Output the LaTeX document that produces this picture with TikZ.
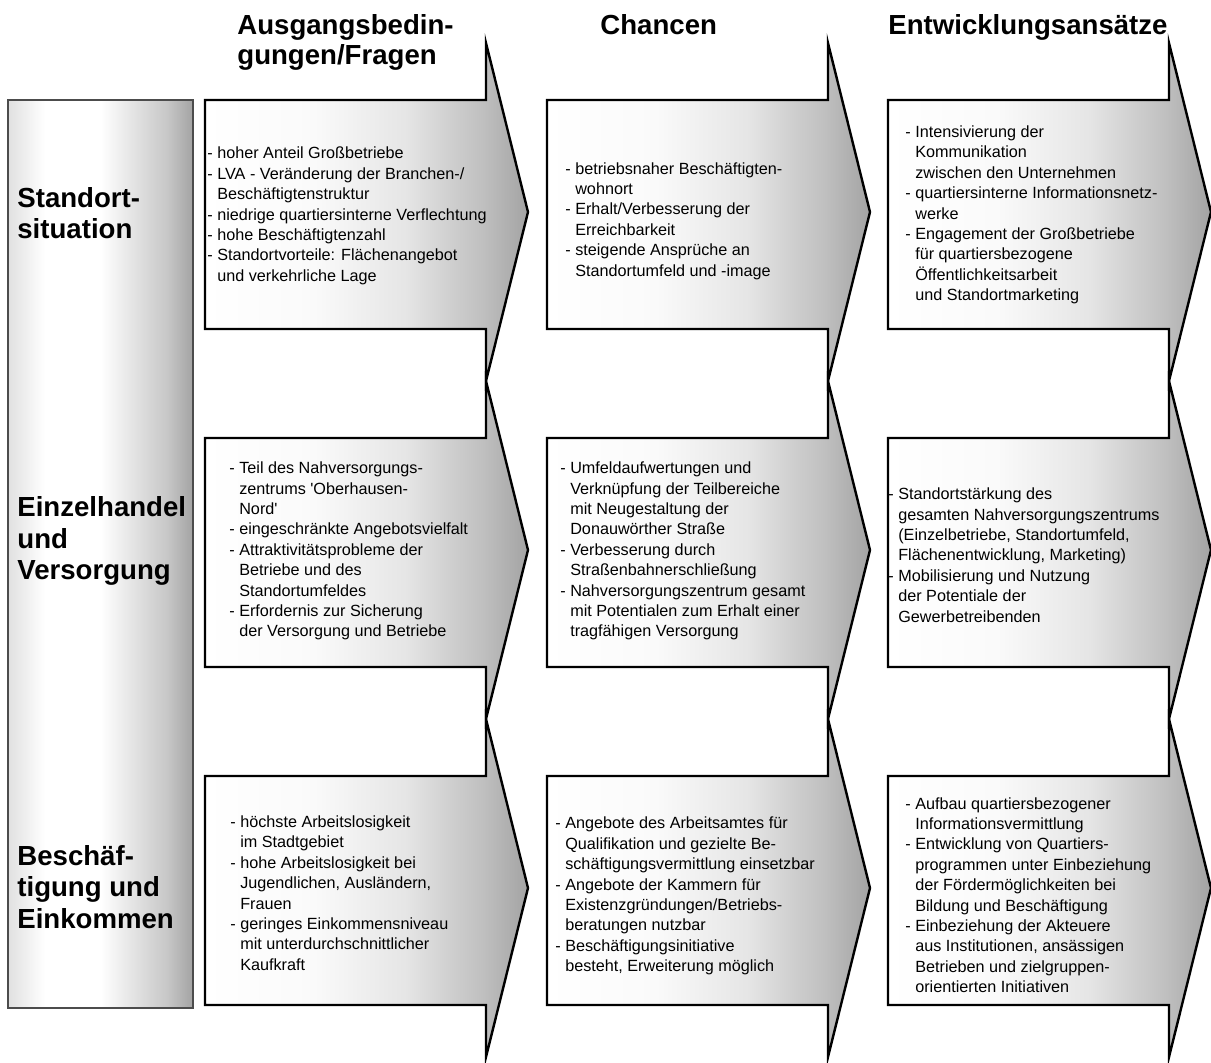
\documentclass[tikz,border=0pt]{standalone}
\usepackage{fontspec}
\setmainfont{Liberation Sans}
\newcommand{\einr}{\hphantom{- }}
\pgfdeclarehorizontalshading{flowshade}{100bp}{color(0bp)=(white); color(25bp)=(white); color(42bp)=(black!2); color(56bp)=(black!10); color(68bp)=(black!25); color(75bp)=(black!36); color(100bp)=(black!36)}
\pgfdeclarehorizontalshading{colshade}{100bp}{color(0bp)=(black!12); color(25bp)=(black!12); color(35bp)=(white); color(50bp)=(white); color(68bp)=(black!22); color(75bp)=(black!36); color(100bp)=(black!36)}

\begin{document}
\begin{tikzpicture}[x=0.5pt,y=-0.5pt,
        flow/.style={draw=black,line width=1.2pt,line join=miter,shade,shading=flowshade},
        txt/.style={anchor=west,align=left,inner sep=0pt,font=\fontsize{8.1}{10.2}\selectfont},
        hd/.style={anchor=west,align=left,inner sep=0pt,font=\fontsize{13.8}{15.6}\selectfont\bfseries},
        ttl/.style={anchor=north west,align=left,inner sep=0pt,font=\fontsize{13.8}{15}\selectfont\bfseries}]
        \useasboundingbox (0,0) rectangle (1211,1062);

        % left column
        \draw[draw=black!70,line width=0.7pt,shade,shading=colshade] (8,100) rectangle (193,1008);

        % arrows, one per column and row
        \foreach \c in {205,547,888}
            \foreach \r in {43,381,719}
                \draw[flow] (\c,\r+57) -- (\c+281,\r+57) -- (\c+281,\r) -- (\c+323,\r+169)
                    -- (\c+281,\r+338) -- (\c+281,\r+286) -- (\c,\r+286) -- cycle;

        % titles
        \node at (237,14) [ttl] (t_aus) {Ausgangsbedin-\\gungen/Fragen};
        \node at (600,14) [ttl] (t_cha) {Chancen};
        \node at (888,14) [ttl] (t_ent) {Entwicklungsansätze};

        % row headings
        \node at (17,213) [hd] (standort) {Standort-\\situation};
        \node at (17,541) [hd] (handel) {Einzelhandel\\und\\Versorgung};
        \node at (17,887) [hd] (beschaeft) {Beschäf-\\tigung und\\Einkommen};

        % Standortsituation
        \node at (207,216) [txt] (aus1) {- hoher Anteil Großbetriebe\\- LVA - Veränderung der Branchen-/\\\einr Beschäftigtenstruktur\\- niedrige quartiersinterne Verflechtung\\- hohe Beschäftigtenzahl\\- Standortvorteile: Flächenangebot\\\einr und verkehrliche Lage};
        \node at (565,221) [txt] (cha1) {- betriebsnaher Beschäftigten-\\\einr wohnort\\- Erhalt/Verbesserung der\\\einr Erreichbarkeit\\- steigende Ansprüche an\\\einr Standortumfeld und -image};
        \node at (905,215) [txt] (ent1) {- Intensivierung der\\\einr Kommunikation\\\einr zwischen den Unternehmen\\- quartiersinterne Informationsnetz-\\\einr werke\\- Engagement der Großbetriebe\\\einr für quartiersbezogene\\\einr Öffentlichkeitsarbeit\\\einr und Standortmarketing};

        % Einzelhandel und Versorgung
        \node at (229,551) [txt] (aus2) {- Teil des Nahversorgungs-\\\einr zentrums \textquotesingle Oberhausen-\\\einr Nord\textquotesingle\\- eingeschränkte Angebotsvielfalt\\- Attraktivitätsprobleme der\\\einr Betriebe und des\\\einr Standortumfeldes\\- Erfordernis zur Sicherung\\\einr der Versorgung und Betriebe};
        \node at (560,551) [txt] (cha2) {- Umfeldaufwertungen und\\\einr Verknüpfung der Teilbereiche\\\einr mit Neugestaltung der\\\einr Donauwörther Straße\\- Verbesserung durch\\\einr Straßenbahnerschließung\\- Nahversorgungszentrum gesamt\\\einr mit Potentialen zum Erhalt einer\\\einr tragfähigen Versorgung};
        \node at (888,555) [txt] (ent2) {- Standortstärkung des\\\einr gesamten Nahversorgungszentrums\\\einr (Einzelbetriebe, Standortumfeld,\\\einr Flächenentwicklung, Marketing)\\- Mobilisierung und Nutzung\\\einr der Potentiale der\\\einr Gewerbetreibenden};

        % Beschaeftigung und Einkommen
        \node at (230,893) [txt] (aus3) {- höchste Arbeitslosigkeit\\\einr im Stadtgebiet\\- hohe Arbeitslosigkeit bei\\\einr Jugendlichen, Ausländern,\\\einr Frauen\\- geringes Einkommensniveau\\\einr mit unterdurchschnittlicher\\\einr Kaufkraft};
        \node at (555,896) [txt] (cha3) {- Angebote des Arbeitsamtes für\\\einr Qualifikation und gezielte Be-\\\einr schäftigungsvermittlung einsetzbar\\- Angebote der Kammern für\\\einr Existenzgründungen/Betriebs-\\\einr beratungen nutzbar\\- Beschäftigungsinitiative\\\einr besteht, Erweiterung möglich};
        \node at (905,895) [txt] (ent3) {- Aufbau quartiersbezogener\\\einr Informationsvermittlung\\- Entwicklung von Quartiers-\\\einr programmen unter Einbeziehung\\\einr der Fördermöglichkeiten bei\\\einr Bildung und Beschäftigung\\- Einbeziehung der Akteuere\\\einr aus Institutionen, ansässigen\\\einr Betrieben und zielgruppen-\\\einr orientierten Initiativen};
\end{tikzpicture}
\end{document}
